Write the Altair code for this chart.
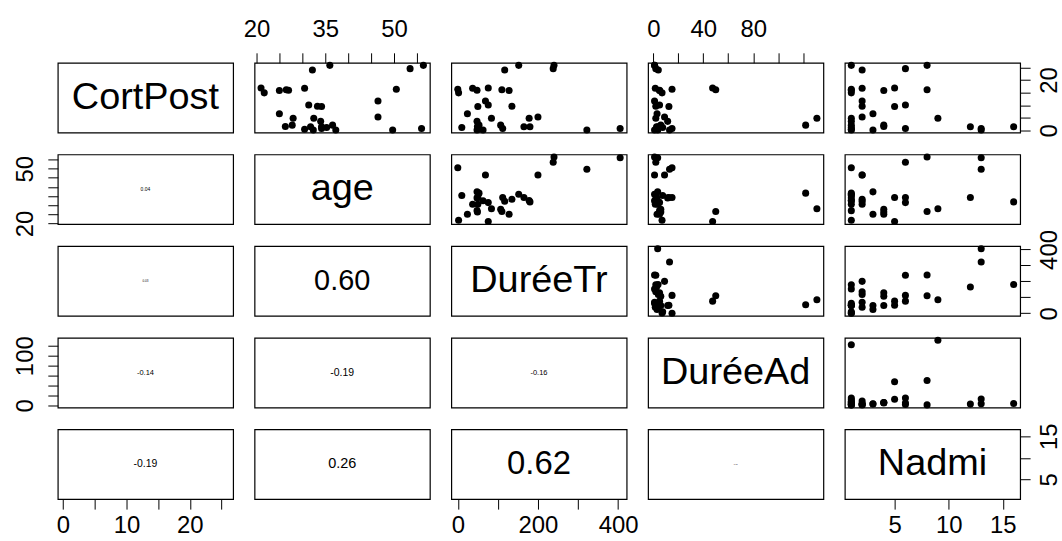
import json
import altair as alt
import pandas as pd

# ---------------- data ----------------
cort_post = [16.3, 25.8, 2.1, 14.9, 4.8, 3.6, 1.2, 0.5, 0.2, 15.9,
             5.3, 11.7, 24.0, 16.7, 9.6, 6.6, 0.2, 15.8, 2.1, 1.6,
             16.8, 9.5, 24.5, 10.1, 0.8, 25.8, 16.1, 4.8, 1.5, 0.8, 0.2, 1.5]
age = [50.5, 36.0, 36.6, 21.7, 32.5, 34.0, 35.3, 30.5, 32.4, 27.0,
       46.5, 46.5, 32.2, 30.5, 33.3, 25.0, 37.3, 25.0, 27.8, 26.3,
       21.0, 34.2, 53.5, 31.4, 34.2, 56.4, 26.5, 28.0, 34.2, 56.0, 49.7, 31.8]
duree_tr = [0, 152, 53, 2, 178, 48, 10, 50, 63, 48,
            200, 69, 117, 37, 135, 24, 48, 128, 107, 49,
            76, 50, 238, 76, 112, 240, 110, 84, 165, 405, 322, 180]
duree_ad = [15, 1, 122, 7, 2, 11.5, 7.5, 3.5, 1, 5,
            9, 1, 4, 1.6, 2, 3, 3.5, 5, 6, 6,
            47.5, 12.5, 2, 5, 15, 1, 50, 131, 2.6, 3.5, 13, 3.8]
nadmi = [1, 1, 1, 1, 1, 1, 1, 1, 1, 1,
         2, 2, 2, 2, 2, 3, 3, 4, 4, 4,
         5, 5, 6, 6, 6, 8, 8, 9, 12, 13, 13, 16]

var_names = ["CortPost", "age", "DuréeTr", "DuréeAd", "Nadmi"]
var_keys = ["cp", "age", "dt", "da", "n"]
series = [cort_post, age, duree_tr, duree_ad, nadmi]

# correlation texts shown in the lower panels (row, col) -> text
cor_cells = [(1, 0), (2, 0), (3, 0), (4, 0), (2, 1), (3, 1), (4, 1), (3, 2), (4, 2), (4, 3)]
cor_texts = ["0.04", "0.03", "-0.14", "-0.19", "0.60", "-0.19", "0.26", "-0.16", "0.62", "0.01"]

# axis ticks and which tick labels are printed
tick_values = [[0, 5, 10, 15, 20, 25],
               [20, 25, 30, 35, 40, 45, 50, 55],
               [0, 100, 200, 300, 400],
               [0, 20, 40, 60, 80, 100, 120],
               [5, 10, 15]]
labels_top = {1: [20, 35, 50], 3: [0, 40, 80]}
labels_bottom = {0: [0, 10, 20], 2: [0, 200, 400], 4: [5, 10, 15]}
labels_left = {1: [20, 50], 3: [0, 100]}
labels_right = {0: [0, 20], 2: [0, 400], 4: [5, 15]}

# ---------------- styles ----------------
FONT = "Liberation Sans"
PANEL_W, PANEL_H = 176, 70
cor_font_sizes = [5, 3, 7.5, 10.5, 29, 10.5, 14.5, 7.5, 33, 2]
DIAG_FONT = 38
LABEL_FONT = 24
LABEL_PAD = {"top": 11, "bottom": 4, "left": 10, "right": 7}

df = pd.DataFrame(dict(zip(var_keys, series)))

domains = []
for s in series:
    lo, hi = min(s), max(s)
    r = hi - lo
    domains.append([lo - 0.04 * r, hi + 0.04 * r])


def mid(k):
    return (domains[k][0] + domains[k][1]) / 2


def make_axis(k, orient, shown):
    expr = "indexof(%s, datum.value) >= 0 ? datum.label : ''" % json.dumps(shown)
    kw = dict(orient=orient, values=tick_values[k], labelExpr=expr, title=None,
              domain=False, grid=False, ticks=True, tickSize=10, tickWidth=1,
              tickColor="black", labelColor="black", labelFont=FONT,
              labelFontSize=LABEL_FONT, labelOverlap=False, labelFlush=False,
              labelBound=False, labelPadding=LABEL_PAD[orient])
    if orient == "left":
        kw.update(labelAngle=270, labelAlign="center", labelBaseline="bottom")
    elif orient == "right":
        kw.update(labelAngle=270, labelAlign="center", labelBaseline="top")
    elif orient == "top":
        kw.update(labelAlign="center", labelBaseline="bottom")
    else:
        kw.update(labelAlign="center", labelBaseline="top")
    return alt.Axis(**kw)


panels = []
for i in range(5):
    for j in range(5):
        xk, yk = var_keys[j], var_keys[i]
        xaxis = None
        if i == 0 and j in labels_top:
            xaxis = make_axis(j, "top", labels_top[j])
        if i == 4 and j in labels_bottom:
            xaxis = make_axis(j, "bottom", labels_bottom[j])
        yaxis = None
        if j == 0 and i in labels_left:
            yaxis = make_axis(i, "left", labels_left[i])
        if j == 4 and i in labels_right:
            yaxis = make_axis(i, "right", labels_right[i])
        xenc = alt.X(f"{xk}:Q", scale=alt.Scale(domain=domains[j], nice=False, zero=False), axis=xaxis)
        yenc = alt.Y(f"{yk}:Q", scale=alt.Scale(domain=domains[i], nice=False, zero=False), axis=yaxis)
        if i < j:
            ch = alt.Chart(df).mark_circle(size=50, color="black", opacity=1).encode(x=xenc, y=yenc)
        else:
            if i == j:
                txt, fs = var_names[i], DIAG_FONT
            else:
                idx = cor_cells.index((i, j))
                txt, fs = cor_texts[idx], cor_font_sizes[idx]
            tdf = pd.DataFrame({xk: [mid(j)], yk: [mid(i)], "t": [txt]})
            ch = alt.Chart(tdf).mark_text(font=FONT, fontSize=fs, color="black",
                                           align="center", baseline="middle").encode(
                x=xenc, y=yenc, text="t:N")
        panels.append(ch.properties(width=PANEL_W, height=PANEL_H))

chart = alt.concat(*panels, columns=5, spacing={"row": 22, "column": 21.5}, bounds="flush").properties(
    padding={"left": 13, "top": 16, "right": 0, "bottom": 0},
    background="white",
).configure_view(stroke="black", strokeWidth=1.2)

chart.save("out.html", embed_options={"renderer": "svg", "actions": False})
